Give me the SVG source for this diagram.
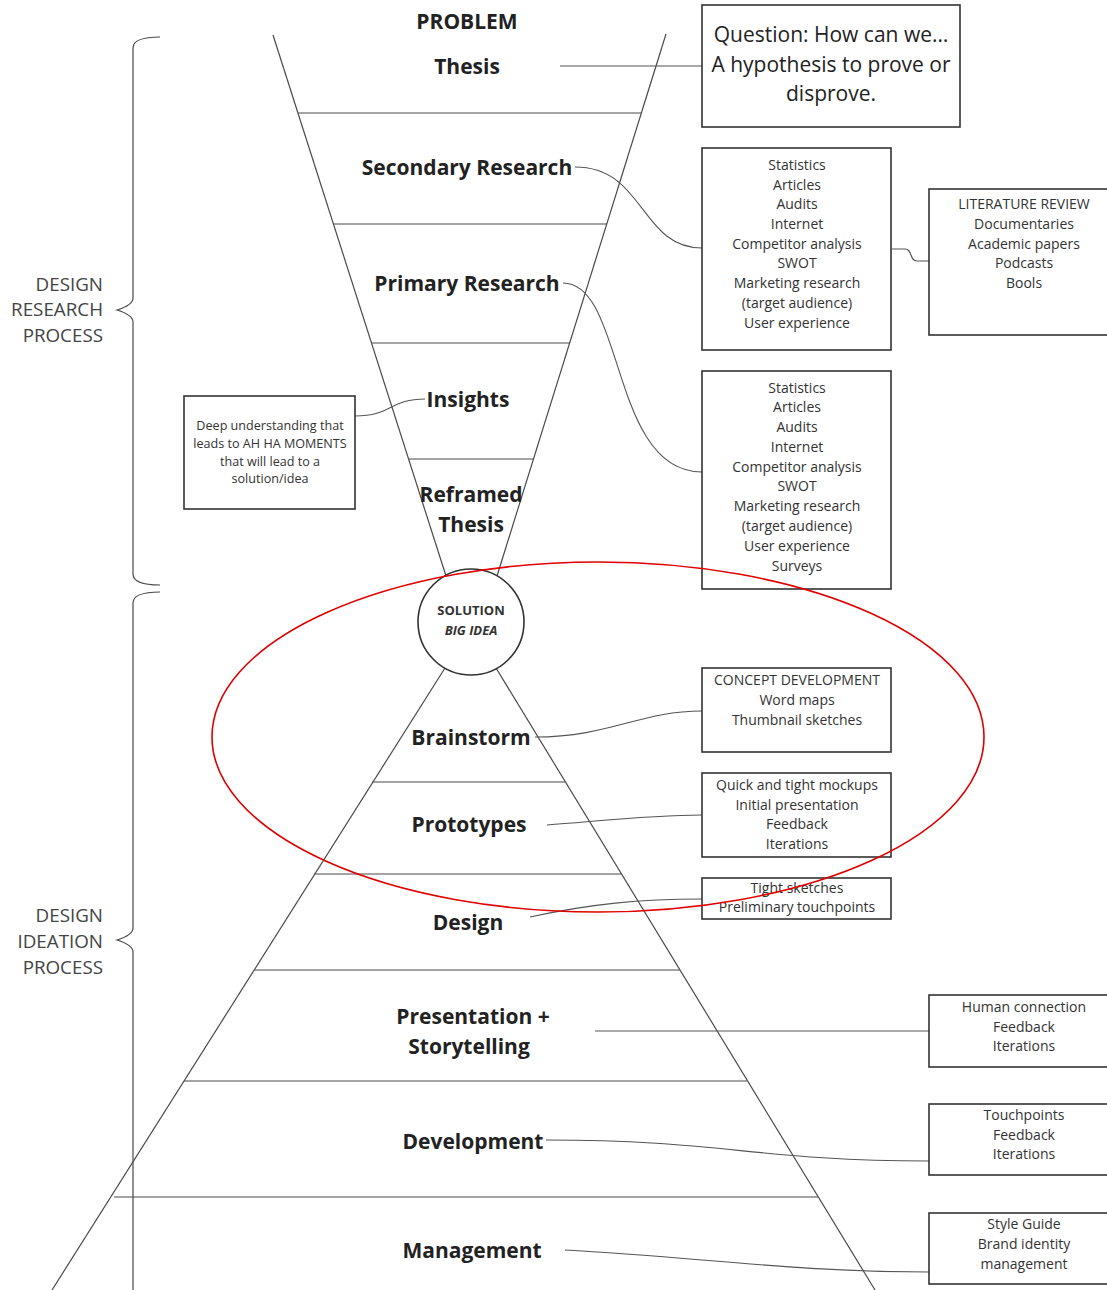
<svg xmlns="http://www.w3.org/2000/svg" width="1107" height="1290" viewBox="0 0 1107 1290">
<style>
.bg{fill:#fff}
.edge{stroke:#4a4a4a;stroke-width:1.2;fill:none}
.box{fill:#fff;stroke:#333;stroke-width:1.6}
.conn{stroke:#555;stroke-width:1.1;fill:none}
.lbl{font-family:"Open Sans","DejaVu Sans",sans-serif;font-weight:700;font-size:21px;fill:#222;text-anchor:middle}
.bt{font-family:"Open Sans","DejaVu Sans",sans-serif;font-size:14px;fill:#333;text-anchor:middle}
.st{font-family:"Open Sans","DejaVu Sans",sans-serif;font-size:12.6px;fill:#333;text-anchor:middle}
.qt{font-family:"Open Sans","DejaVu Sans",sans-serif;font-size:21px;fill:#222;text-anchor:middle}
.side{font-family:"Open Sans","DejaVu Sans",sans-serif;font-size:18.8px;fill:#444;text-anchor:end}
.sol{font-family:"Open Sans","DejaVu Sans",sans-serif;font-weight:700;font-size:13px;fill:#333;text-anchor:middle}
</style>
<rect class="bg" x="0" y="0" width="1107" height="1290"/>

<g id="funnel">
  <line class="edge" x1="273" y1="35" x2="446" y2="576"/>
  <line class="edge" x1="666" y1="34" x2="497" y2="576"/>
  <line class="edge" x1="298" y1="113" x2="641" y2="113"/>
  <line class="edge" x1="333" y1="224" x2="607" y2="224"/>
  <line class="edge" x1="372" y1="343" x2="570" y2="343"/>
  <line class="edge" x1="409" y1="459" x2="533" y2="459"/>
</g>
<g id="pyramid">
  <line class="edge" x1="445" y1="668" x2="52" y2="1290"/>
  <line class="edge" x1="496" y1="668" x2="875" y2="1290"/>
  <line class="edge" x1="372" y1="782" x2="565" y2="782"/>
  <line class="edge" x1="314" y1="874" x2="621" y2="874"/>
  <line class="edge" x1="254" y1="970" x2="680" y2="970"/>
  <line class="edge" x1="184" y1="1081" x2="747" y2="1081"/>
  <line class="edge" x1="114" y1="1197" x2="818" y2="1197"/>
</g>

<g id="braces">
  <path class="edge" d="M160,37 Q133,37 133,48 V298 Q133,305 117,310 Q133,315 133,322 V574 Q133,585 160,585"/>
  <path class="edge" d="M160,592 Q133,592 133,603 V928 Q133,935 117,940 Q133,945 133,952 V1295"/>
</g>
<g id="label-research">
  <text class="side" x="103" y="291">DESIGN</text>
  <text class="side" x="103" y="316">RESEARCH</text>
  <text class="side" x="103" y="342">PROCESS</text>
</g>
<g id="label-ideation">
  <text class="side" x="103" y="922">DESIGN</text>
  <text class="side" x="103" y="948">IDEATION</text>
  <text class="side" x="103" y="974">PROCESS</text>
</g>

<g id="connectors">
  <path class="conn" d="M560,66 H702"/>
  <path class="conn" d="M575,167 C645,167 640,248 702,248"/>
  <path class="conn" d="M563,283 C625,283 610,472 702,472"/>
  <path class="conn" d="M892,249 H905 C913,249 909,261 917,261 H929"/>
  <path class="conn" d="M355,416 C392,416 390,399 425,399"/>
  <path class="conn" d="M535,737 C610,737 640,711 702,711"/>
  <path class="conn" d="M547,825 C600,821 650,815 702,815"/>
  <path class="conn" d="M530,917 C590,904 640,899 702,899"/>
  <path class="conn" d="M595,1031 H929"/>
  <path class="conn" d="M546,1140 C720,1140 760,1161 929,1161"/>
  <path class="conn" d="M565,1250 C700,1257 790,1272 929,1272"/>
</g>

<g id="n-problem"><text class="lbl" x="467" y="29">PROBLEM</text></g>
<g id="n-thesis"><text class="lbl" x="467" y="74">Thesis</text></g>
<g id="n-secondary"><text class="lbl" x="467" y="175">Secondary Research</text></g>
<g id="n-primary"><text class="lbl" x="467" y="291">Primary Research</text></g>
<g id="n-insights"><text class="lbl" x="468" y="407">Insights</text></g>
<g id="n-reframed"><text class="lbl" x="471" y="502">Reframed</text><text class="lbl" x="471" y="532">Thesis</text></g>
<g id="n-solution">
  <circle cx="471" cy="622" r="53" fill="#fff" stroke="#333" stroke-width="1.6"/>
  <text class="sol" x="471" y="615">SOLUTION</text>
  <text class="sol" x="471" y="635" font-style="italic">BIG IDEA</text>
</g>
<g id="n-brainstorm"><text class="lbl" x="471" y="745">Brainstorm</text></g>
<g id="n-prototypes"><text class="lbl" x="469" y="832">Prototypes</text></g>
<g id="n-design"><text class="lbl" x="468" y="930">Design</text></g>
<g id="n-presentation"><text class="lbl" x="473" y="1024">Presentation +</text><text class="lbl" x="469" y="1054">Storytelling</text></g>
<g id="n-development"><text class="lbl" x="473" y="1149">Development</text></g>
<g id="n-management"><text class="lbl" x="472" y="1258">Management</text></g>

<g id="b-question">
  <rect class="box" x="702" y="5" width="258" height="122"/>
  <text class="qt" x="831" y="42">Question: How can we…</text>
  <text class="qt" x="831" y="72">A hypothesis to prove or</text>
  <text class="qt" x="831" y="101">disprove.</text>
</g>
<g id="b-secondary">
  <rect class="box" x="702" y="148" width="189" height="202"/>
  <text class="bt" x="797" y="170">Statistics</text>
  <text class="bt" x="797" y="190">Articles</text>
  <text class="bt" x="797" y="209">Audits</text>
  <text class="bt" x="797" y="229">Internet</text>
  <text class="bt" x="797" y="249">Competitor analysis</text>
  <text class="bt" x="797" y="268">SWOT</text>
  <text class="bt" x="797" y="288">Marketing research</text>
  <text class="bt" x="797" y="308">(target audience)</text>
  <text class="bt" x="797" y="328">User experience</text>
</g>
<g id="b-literature">
  <rect class="box" x="929" y="189" width="190" height="146"/>
  <text class="bt" x="1024" y="209">LITERATURE REVIEW</text>
  <text class="bt" x="1024" y="229">Documentaries</text>
  <text class="bt" x="1024" y="249">Academic papers</text>
  <text class="bt" x="1024" y="268">Podcasts</text>
  <text class="bt" x="1024" y="288">Bools</text>
</g>
<g id="b-primary">
  <rect class="box" x="702" y="371" width="189" height="218"/>
  <text class="bt" x="797" y="393">Statistics</text>
  <text class="bt" x="797" y="412">Articles</text>
  <text class="bt" x="797" y="432">Audits</text>
  <text class="bt" x="797" y="452">Internet</text>
  <text class="bt" x="797" y="472">Competitor analysis</text>
  <text class="bt" x="797" y="491">SWOT</text>
  <text class="bt" x="797" y="511">Marketing research</text>
  <text class="bt" x="797" y="531">(target audience)</text>
  <text class="bt" x="797" y="551">User experience</text>
  <text class="bt" x="797" y="571">Surveys</text>
</g>
<g id="b-insights">
  <rect class="box" x="184" y="396" width="171" height="113"/>
  <text class="st" x="270" y="430">Deep understanding that</text>
  <text class="st" x="270" y="448">leads to AH HA MOMENTS</text>
  <text class="st" x="270" y="466">that will lead to a</text>
  <text class="st" x="270" y="483">solution/idea</text>
</g>
<g id="b-concept">
  <rect class="box" x="702" y="668" width="189" height="84"/>
  <text class="bt" x="797" y="685">CONCEPT DEVELOPMENT</text>
  <text class="bt" x="797" y="705">Word maps</text>
  <text class="bt" x="797" y="725">Thumbnail sketches</text>
</g>
<g id="b-quick">
  <rect class="box" x="702" y="773" width="189" height="84"/>
  <text class="bt" x="797" y="790">Quick and tight mockups</text>
  <text class="bt" x="797" y="810">Initial presentation</text>
  <text class="bt" x="797" y="829">Feedback</text>
  <text class="bt" x="797" y="849">Iterations</text>
</g>
<g id="b-tight">
  <rect class="box" x="702" y="878" width="189" height="41"/>
  <text class="bt" x="797" y="893">Tight sketches</text>
  <text class="bt" x="797" y="912">Preliminary touchpoints</text>
</g>
<g id="b-human">
  <rect class="box" x="929" y="995" width="190" height="72"/>
  <text class="bt" x="1024" y="1012">Human connection</text>
  <text class="bt" x="1024" y="1032">Feedback</text>
  <text class="bt" x="1024" y="1051">Iterations</text>
</g>
<g id="b-touch">
  <rect class="box" x="929" y="1104" width="190" height="71"/>
  <text class="bt" x="1024" y="1120">Touchpoints</text>
  <text class="bt" x="1024" y="1140">Feedback</text>
  <text class="bt" x="1024" y="1159">Iterations</text>
</g>
<g id="b-style">
  <rect class="box" x="929" y="1213" width="190" height="71"/>
  <text class="bt" x="1024" y="1229">Style Guide</text>
  <text class="bt" x="1024" y="1249">Brand identity</text>
  <text class="bt" x="1024" y="1269">management</text>
</g>

<g id="highlight">
  <ellipse cx="598" cy="737" rx="386" ry="175" fill="none" stroke="#e00000" stroke-width="1.6"/>
</g>
</svg>
